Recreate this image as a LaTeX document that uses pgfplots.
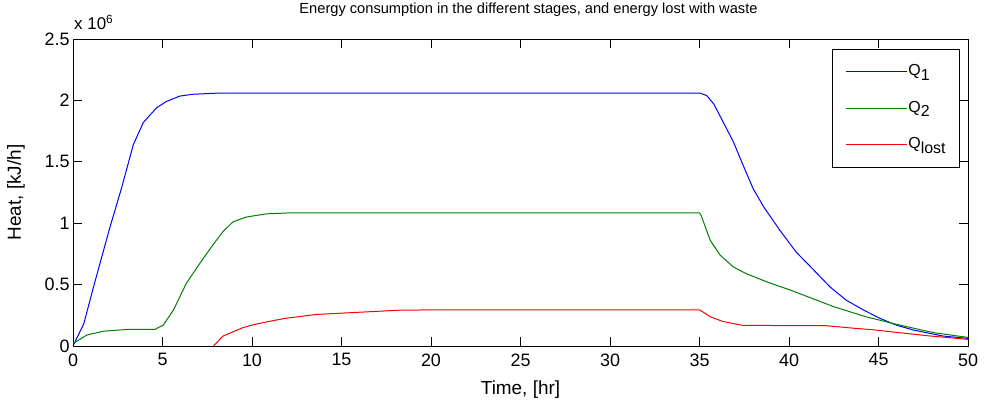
\documentclass[border=0pt]{standalone}
\usepackage{pgfplots}
\pgfplotsset{compat=1.18}
\usepackage{pgfplotstable}
\usepackage{fontspec}
\setmainfont{Liberation Sans}
\definecolor{mblue}{RGB}{0,0,255}
\definecolor{mgreen}{RGB}{0,128,0}
\definecolor{mred}{RGB}{255,0,0}

\pgfplotstableread{
t q
0 0
0.6 0.18e6
1.2 0.51e6
2.07 0.97e6
2.72 1.29e6
3.37 1.64e6
3.93 1.82e6
4.67 1.94e6
5.2 1.99e6
5.96 2.035e6
6.7 2.05e6
8.2 2.06e6
35.0 2.06e6
35.4 2.04e6
35.8 1.97e6
36.3 1.83e6
36.9 1.66e6
37.5 1.45e6
38.0 1.28e6
38.6 1.13e6
39.5 0.94e6
40.4 0.765e6
41.4 0.616e6
42.3 0.48e6
43.2 0.373e6
44.2 0.29e6
45.1 0.224e6
46.0 0.17e6
46.95 0.13e6
48.6 0.081e6
50 0.062e6
}\qone

\pgfplotstableread{
t q
0 0.02e6
0.78 0.09e6
1.7 0.12e6
3.0 0.135e6
4.57 0.135e6
5.04 0.17e6
5.6 0.29e6
6.33 0.51e6
7.07 0.67e6
7.8 0.82e6
8.37 0.93e6
8.93 1.01e6
9.67 1.05e6
10.8 1.076e6
12.26 1.085e6
35.0 1.085e6
35.1 1.06e6
35.6 0.86e6
36.15 0.74e6
36.9 0.643e6
37.6 0.59e6
38.8 0.52e6
40.1 0.454e6
42.5 0.32e6
44.3 0.238e6
46.2 0.17e6
48.1 0.108e6
50 0.07e6
}\qtwo

\pgfplotstableread{
t q
7.85 0
8.37 0.08e6
8.97 0.118e6
9.5 0.15e6
10 0.17e6
10.6 0.19e6
11.8 0.224e6
13.6 0.257e6
16.4 0.278e6
18.3 0.292e6
21.1 0.295e6
35 0.295e6
35.6 0.238e6
36.3 0.2e6
37.4 0.168e6
42.1 0.165e6
43.6 0.145e6
44.7 0.132e6
46.2 0.108e6
47.7 0.084e6
50 0.054e6
}\qlost

\newcommand{\sub}[1]{\raisebox{-4.5bp}{\fontsize{16}{16}\selectfont #1}}

\begin{document}
\begin{tikzpicture}
\begin{axis}[
  scale only axis,
  width=895bp, height=307bp,
  xmin=0, xmax=50, ymin=0, ymax=2.5e6,
  xtick={0,5,...,50},
  ytick={0,0.5e6,1e6,1.5e6,2e6,2.5e6},
  yticklabels={0,0.5,1,1.5,2,2.5},
  scaled y ticks=false,
  tick align=inside,
  major tick length=9bp,
  axis line style={line width=0.8bp},
  every tick/.style={line width=0.8bp, black},
  /pgf/number format/assume math mode=true,
  ticklabel style={font=\fontsize{18}{20}\selectfont},
  xticklabel style={yshift=-4bp},
  title={Energy consumption in the different stages, and energy lost with waste},
  title style={font=\fontsize{14.7}{16}\selectfont, at={(axis description cs:0.5,1.065)}, anchor=base, xshift=8bp},
  xlabel={Time, [hr]},
  ylabel={Heat, [kJ/h]},
  label style={font=\fontsize{19}{21}\selectfont},
  xlabel style={at={(axis description cs:0.5,-0.1564)}, anchor=base},
  ylabel style={at={(axis description cs:-0.0637,0.5)}, anchor=center},
  legend style={at={(axis description cs:1,1)}, xshift=-8bp, yshift=-10bp, anchor=north east,
    font=\fontsize{16}{18}\selectfont, line width=0.8bp,
    inner xsep=13bp, inner ysep=12.5bp, row sep=16.5bp,
    nodes={inner xsep=1bp, inner ysep=2bp, text height=12bp, text depth=4bp}},
  legend cell align=left,
  legend image code/.code={\draw[mark repeat=2,mark phase=2,#1] plot coordinates {(0bp,0bp) (30.5bp,0bp) (61bp,0bp)};},
  every axis plot/.append style={line width=1bp},
]
\addplot[color=mblue] table[x=t,y=q] {\qone};
\addplot[color=mgreen] table[x=t,y=q] {\qtwo};
\addplot[color=mred] table[x=t,y=q] {\qlost};
\legend{Q\sub{1}, Q\sub{2}, Q\sub{lost}}
\end{axis}
\node[anchor=base west, inner sep=0pt, font=\fontsize{17}{19}\selectfont] at ([shift={(1bp,9bp)}]current axis.north west) {x 10\textsuperscript{6}};
\pgfresetboundingbox
\path ([shift={(-73bp,-60bp)}]current axis.south west) rectangle ([shift={(16bp,39bp)}]current axis.north east);
\end{tikzpicture}
\end{document}
